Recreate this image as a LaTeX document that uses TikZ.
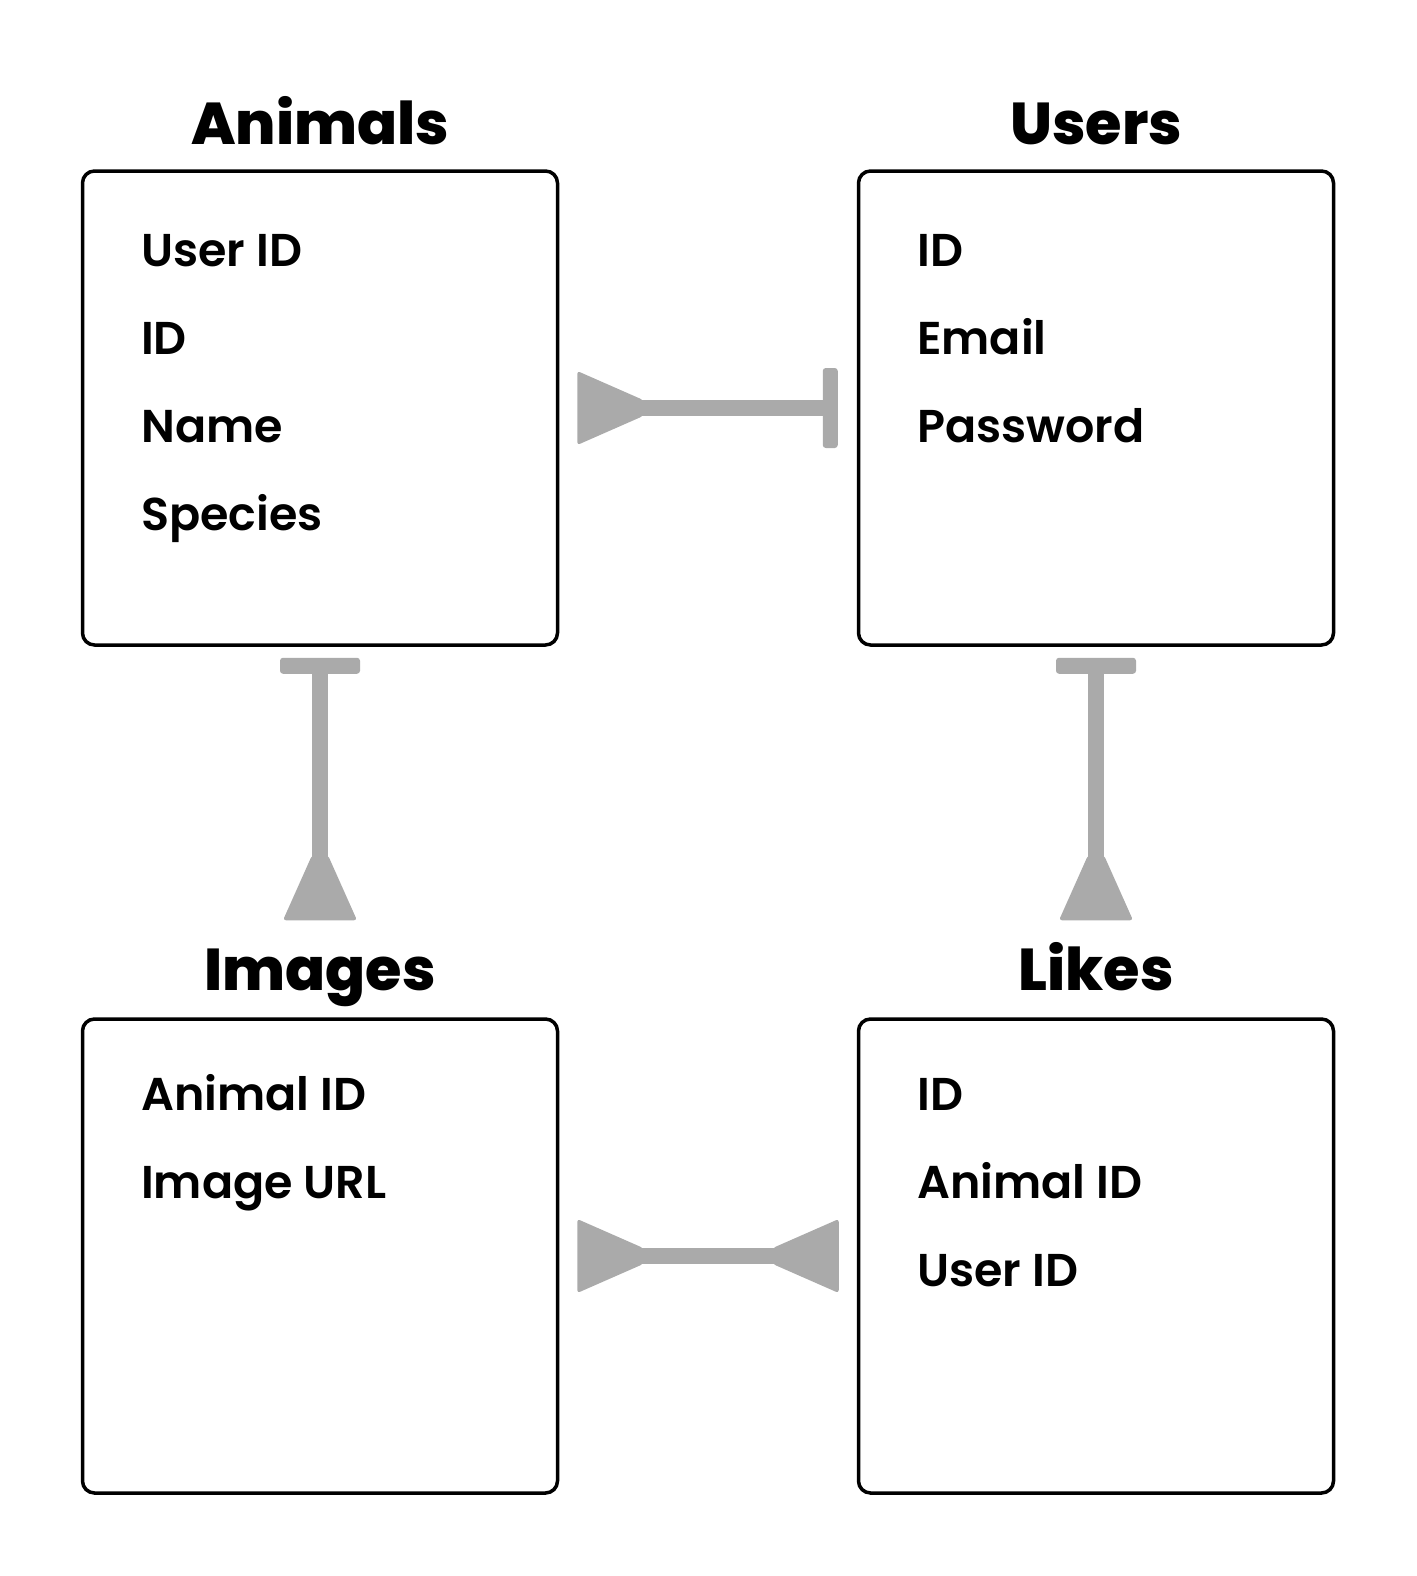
\documentclass[tikz,border=0pt]{standalone}
\usepackage{fontspec}
\setmainfont{Poppins}
\newfontfamily\fieldfont{Poppins SemiBold}
\newfontfamily\titlefont{Poppins ExtraBold}
\usetikzlibrary{calc}
\definecolor{conngray}{HTML}{AAAAAA}
\tikzset{
  tablebox/.style={draw=black, line width=3.5pt, rounded corners=12pt, minimum width=475pt, minimum height=474pt, inner sep=0pt},
  tabletitle/.style={anchor=base, font=\fontsize{59}{59}\selectfont\titlefont, inner sep=0pt},
  field/.style={anchor=base west, font=\fontsize{46}{46}\selectfont\fieldfont, inner sep=0pt},
  connline/.style={draw=conngray, line width=16pt},
  connhead/.style={fill=conngray, rounded corners=3pt},
}
\begin{document}
\begin{tikzpicture}[x=1pt,y=-1pt]
\useasboundingbox (0,0) rectangle (1416,1576);
% boxes
\node[tablebox] (animals) at (320,408) {};
\node[tablebox] (users) at (1096,408) {};
\node[tablebox] (images) at (320,1256) {};
\node[tablebox] (likes) at (1096,1256) {};
% titles
\node[tabletitle] (tanimals) at (320,145) {Animals};
\node[tabletitle] (tusers) at (1096,145) {Users};
\node[tabletitle] (timages) at (320,990) {Images};
\node[tabletitle] (tlikes) at (1096,990) {Likes};
% fields
\node[field] (a1) at (141,266) {User ID};
\node[field] (a2) at (141,354) {ID};
\node[field] (a3) at (141,442) {Name};
\node[field] (a4) at (141,530) {Species};
\node[field] (u1) at (917,266) {ID};
\node[field] (u2) at (917,354) {Email};
\node[field] (u3) at (917,442) {Password};
\node[field] (i1) at (141,1110) {Animal ID};
\node[field] (i2) at (141,1198) {Image URL};
\node[field] (l1) at (917,1110) {ID};
\node[field] (l2) at (917,1198) {Animal ID};
\node[field] (l3) at (917,1286) {User ID};
% Animals -- Users
\draw[connline, shorten <=70pt, shorten >=22pt] (animals.east) -- (users.west);
\fill[connhead] ($(animals.east)+(18,-37)$) -- ($(animals.east)+(84,-8)$) -- ($(animals.east)+(84,8)$) -- ($(animals.east)+(18,37)$) -- cycle;
\fill[connhead] ($(users.west)+(-34,-40)$) rectangle ($(users.west)+(-19,40)$);
% Animals -- Images
\draw[connline, shorten <=20pt, shorten >=160pt] (animals.south) -- (images.north);
\fill[connhead] ($(animals.south)+(-40,11)$) rectangle ($(animals.south)+(40,27)$);
\fill[connhead] ($(images.north)+(-37,-97)$) -- ($(images.north)+(-8,-162)$) -- ($(images.north)+(8,-162)$) -- ($(images.north)+(37,-97)$) -- cycle;
% Users -- Likes
\draw[connline, shorten <=20pt, shorten >=160pt] (users.south) -- (likes.north);
\fill[connhead] ($(users.south)+(-40,11)$) rectangle ($(users.south)+(40,27)$);
\fill[connhead] ($(likes.north)+(-37,-97)$) -- ($(likes.north)+(-8,-162)$) -- ($(likes.north)+(8,-162)$) -- ($(likes.north)+(37,-97)$) -- cycle;
% Images -- Likes
\draw[connline, shorten <=70pt, shorten >=70pt] (images.east) -- (likes.west);
\fill[connhead] ($(images.east)+(18,-37)$) -- ($(images.east)+(84,-8)$) -- ($(images.east)+(84,8)$) -- ($(images.east)+(18,37)$) -- cycle;
\fill[connhead] ($(likes.west)+(-18,-37)$) -- ($(likes.west)+(-84,-8)$) -- ($(likes.west)+(-84,8)$) -- ($(likes.west)+(-18,37)$) -- cycle;
\end{tikzpicture}
\end{document}
